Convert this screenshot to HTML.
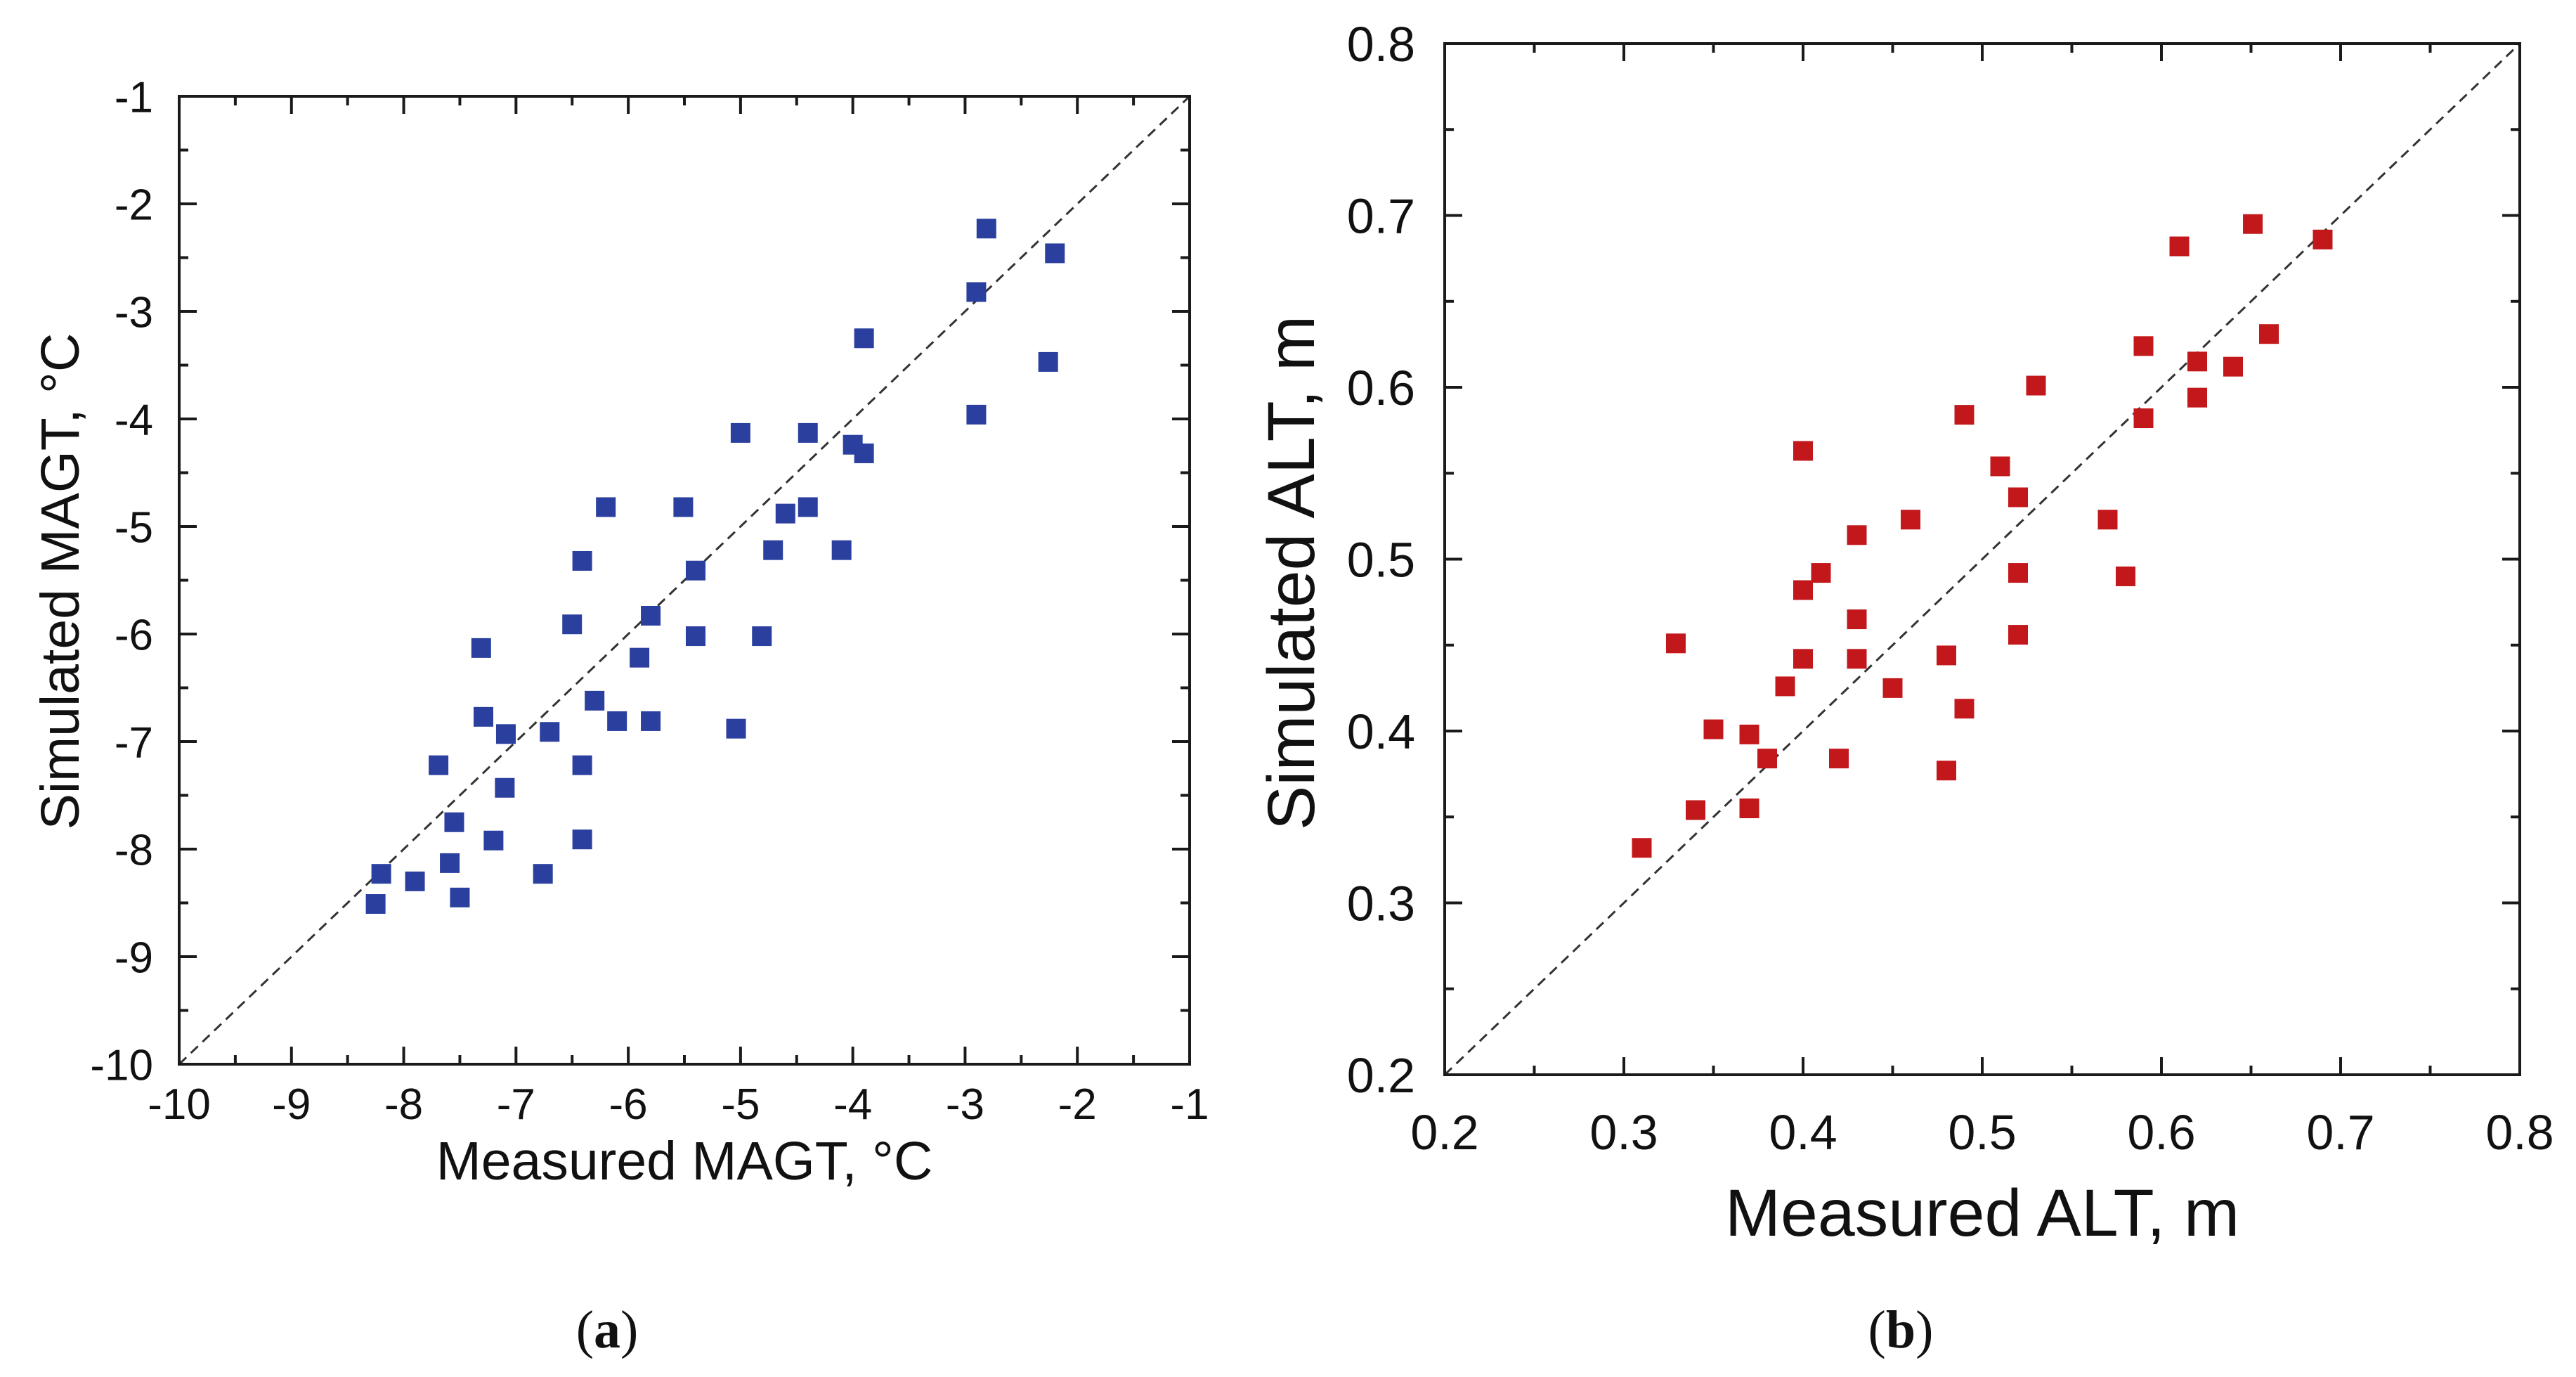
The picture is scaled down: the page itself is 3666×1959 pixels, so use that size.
<!DOCTYPE html>
<html><head><meta charset="utf-8"><style>
html,body{margin:0;padding:0;background:#fff;}
svg{display:block;}
text{font-family:"Liberation Sans",sans-serif;fill:#111;}
.cap{font-family:"Liberation Serif",serif;}
</style></head><body>
<svg id="fig" width="3666" height="1959" viewBox="0 0 3666 1959" xmlns="http://www.w3.org/2000/svg">
<rect width="3666" height="1959" fill="#fff"/>
</svg>
<script>
// Panel (a) data: measured vs simulated MAGT (°C)
const magtMeasured = [-2.81,-2.20,-2.90,-3.90,-2.26,-2.90,-5.00,-4.40,-4.00,-3.90,-6.20,-5.51,-4.40,-4.60,-4.71,-4.10,-6.41,-5.40,-6.50,-5.80,-5.40,-4.81,-7.31,-5.90,-6.30,-7.29,-6.10,-5.80,-7.09,-6.70,-5.04,-7.69,-6.41,-7.10,-7.55,-7.20,-6.41,-7.59,-8.20,-6.76,-7.90,-7.50,-8.25];
const magtSimulated = [-2.23,-2.46,-2.82,-3.25,-3.47,-3.96,-4.13,-4.13,-4.24,-4.32,-4.82,-4.82,-4.82,-4.88,-5.22,-5.22,-5.32,-5.41,-5.91,-5.83,-6.02,-6.02,-6.13,-6.22,-6.62,-6.77,-6.81,-6.81,-6.93,-6.91,-6.88,-7.22,-7.22,-7.43,-7.75,-7.92,-7.91,-8.13,-8.23,-8.23,-8.30,-8.45,-8.51];
const magtTicks = [-10,-9,-8,-7,-6,-5,-4,-3,-2,-1];
// Panel (b) data: measured vs simulated ALT (m)
const altMeasured = [0.651,0.610,0.690,0.660,0.590,0.620,0.640,0.530,0.620,0.490,0.590,0.400,0.510,0.520,0.460,0.570,0.430,0.410,0.520,0.580,0.400,0.430,0.329,0.520,0.480,0.400,0.430,0.390,0.450,0.490,0.350,0.370,0.380,0.420,0.480,0.340,0.370,0.310];
const altSimulated = [0.695,0.682,0.686,0.631,0.624,0.615,0.612,0.601,0.594,0.584,0.582,0.563,0.554,0.536,0.523,0.523,0.514,0.492,0.492,0.490,0.482,0.465,0.451,0.456,0.444,0.442,0.442,0.426,0.425,0.413,0.401,0.398,0.384,0.384,0.377,0.354,0.355,0.332];
const altTicks = [0.2,0.3,0.4,0.5,0.6,0.7,0.8];

const NS="http://www.w3.org/2000/svg";
const svg=document.getElementById('fig');
function mk(tag,attrs,parent){const e=document.createElementNS(NS,tag);for(const k in attrs)e.setAttribute(k,attrs[k]);(parent||svg).appendChild(e);return e;}

function panel(o){
  const g=mk('g',{});
  
  
  const sx=v=>o.x0+(v-o.min)/(o.max-o.min)*(o.x1-o.x0);
  const sy=v=>o.y1-(v-o.min)/(o.max-o.min)*(o.y1-o.y0);
  const d=mk('line',{x1:sx(o.min),y1:sy(o.min),x2:sx(o.max),y2:sy(o.max),stroke:'#333','stroke-width':3,'stroke-dasharray':'14 9'},g);
  
  
  const step=o.ticks[1]-o.ticks[0];
  const tg=mk('g',{stroke:'#1a1a1a','stroke-width':4},g);
  
  
  for(let i=0;i<o.ticks.length;i++){
    const t=o.ticks[i];
    const vals=[[t,25]];
    if(i<o.ticks.length-1)vals.push([t+step/2,13]);
    vals.forEach(([v,L])=>{
      const X=sx(v),Y=sy(v);
      mk('line',{x1:X,y1:o.y1,x2:X,y2:o.y1-L},tg);
      mk('line',{x1:X,y1:o.y0,x2:X,y2:o.y0+L},tg);
      mk('line',{x1:o.x0,y1:Y,x2:o.x0+L,y2:Y},tg);
      mk('line',{x1:o.x1,y1:Y,x2:o.x1-L,y2:Y},tg);
    });
    const xl=mk('text',{x:sx(t),y:o.xtY,'font-size':o.tfs,'text-anchor':'middle'},g);
    xl.textContent=o.fmt(t);
    
    
    const yl=mk('text',{x:o.ytX,y:sy(t)+o.tfs*0.36,'font-size':o.tfs,'text-anchor':'end'},g);
    yl.textContent=o.fmt(t);
    
    
  }
  const box=mk('rect',{x:o.x0,y:o.y0,width:o.x1-o.x0,height:o.y1-o.y0,fill:'none',stroke:'#1a1a1a','stroke-width':4},g);
  
  
  const s=28;
  for(let i=0;i<o.xs.length;i++){
    const p=mk('rect',{x:sx(o.xs[i])-s/2,y:sy(o.ys[i])-s/2,width:s,height:s,fill:o.color},g);
    
    
  }
  const xt=mk('text',{x:(o.x0+o.x1)/2,y:o.xTitleY,'font-size':o.afs,'text-anchor':'middle'},g);
  xt.textContent=o.xTitle;
  
  
  const yt=mk('text',{x:0,y:0,'font-size':o.afs,'text-anchor':'middle',transform:`translate(${o.yTitleX},${o.yTitleY}) rotate(-90)`},g);
  yt.textContent=o.yTitle;
  
  
  const c=mk('text',{x:o.capX,y:1917,'font-size':76,'text-anchor':'middle','class':'cap'},g);
  c.innerHTML='(<tspan font-weight="bold">'+o.cap+'</tspan>)';
  
  
}

panel({name:'panel-a-magt',x0:255,x1:1693,y0:137,y1:1514,min:-10,max:-1,ticks:magtTicks,xs:magtMeasured,ys:magtSimulated,
  color:'#2b3f9e',fmt:v=>String(v),tfs:62,xtY:1592,ytX:218,afs:77,xTitle:'Measured MAGT, °C',xTitleY:1678,
  yTitle:'Simulated MAGT, °C',yTitleX:112,yTitleY:827,capX:864,cap:'a'});
panel({name:'panel-b-alt',x0:2056,x1:3586,y0:62,y1:1529,min:0.2,max:0.8,ticks:altTicks,xs:altMeasured,ys:altSimulated,
  color:'#c2181c',fmt:v=>v.toFixed(1),tfs:70,xtY:1635,ytX:2014,afs:95,xTitle:'Measured ALT, m',xTitleY:1758,
  yTitle:'Simulated ALT, m',yTitleX:1870,yTitleY:815,capX:2705,cap:'b'});
</script>
</body></html>
